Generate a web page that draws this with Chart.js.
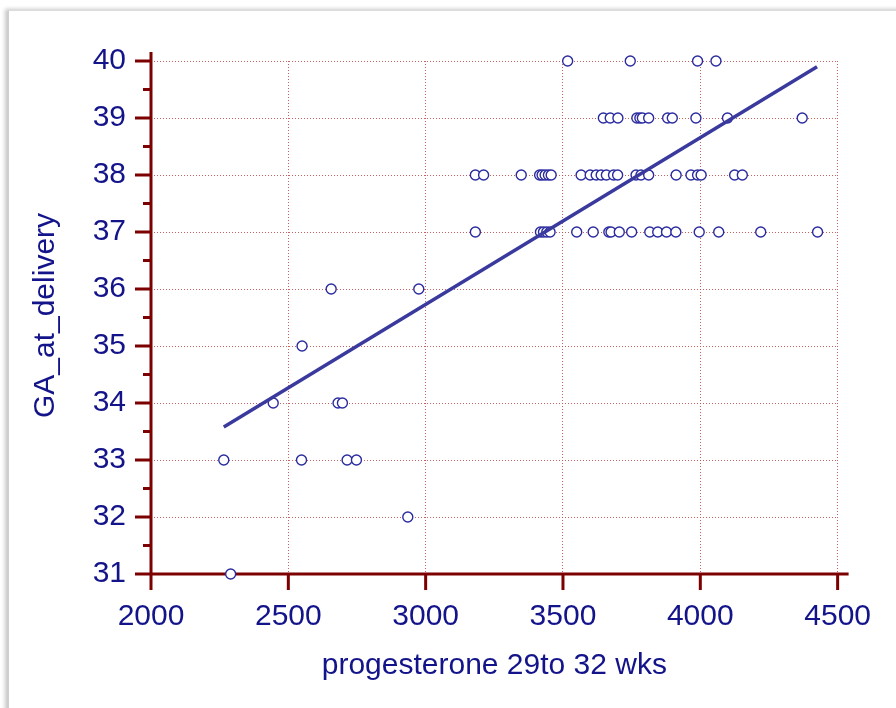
<!DOCTYPE html>
<html>
<head>
<meta charset="utf-8">
<script src="https://cdn.jsdelivr.net/npm/chart.js@4/dist/chart.umd.min.js"></script>
<style>
  html, body { margin: 0; padding: 0; background: #fff; overflow: hidden; }
  #frame {
    position: absolute; left: 8px; top: 10px; width: 900px; height: 710px;
    border-left: 1px solid #cfcfcf; border-top: 1px solid #dcdcdc;
    box-shadow: -3px -1px 4px rgba(0,0,0,0.22);
  }
  #canvas { position: absolute; left: 0; top: 0; }
</style>
</head>
<body>
<div id="frame"></div>
<canvas id="canvas" width="896" height="708"></canvas>
<script>
// gia tri doc tu hinh: progesterone theo tung tuan GA
const wk31 = [2290]
const wk32 = [2935]
const wk33 = [2265, 2548, 2714, 2748]
const wk34 = [2445, 2681, 2697]
const wk35 = [2550]
const wk36 = [2656, 2975]
const wk37 = [3181, 3418, 3429, 3441, 3453, 3550, 3610, 3667, 3675, 3705, 3750,
  3816, 3845, 3877, 3911, 3996, 4067, 4220, 4427]
const wk38 = [3181, 3211, 3348, 3415, 3424, 3435, 3447, 3457, 3566, 3599, 3621,
  3639, 3658, 3684, 3699, 3766, 3784, 3812, 3912, 3966, 3990, 4003, 4125, 4153]
const wk39 = [3647, 3672, 3700, 3769, 3780, 3789, 3812, 3881, 3898, 3984, 4099, 4371]
const wk40 = [3517, 3745, 3990, 4057]

const weeks = [31, 32, 33, 34, 35, 36, 37, 38, 39, 40]
const byWeek = [wk31, wk32, wk33, wk34, wk35, wk36, wk37, wk38, wk39, wk40]

// duong hoi quy (2 dau mut doc tu hinh)
const fitX = [2265, 4425]
const fitY = [33.58, 39.9]

const xTicks = [2000, 2500, 3000, 3500, 4000, 4500]
const xTitle = 'progesterone 29to 32 wks'
const yTitle = 'GA_at_delivery'

const points = []
byWeek.forEach((list, i) => {
  list.forEach(p => points.push({ x: p, y: weeks[i] }))
})
const fitPoints = fitX.map((x, i) => ({ x: x, y: fitY[i] }))

const navy = '#13138a'
const axisRed = '#7d0000'
const font = '"Liberation Sans", Arial, sans-serif'

// ve truc, vach chia va tieu de
const axesPlugin = {
  id: 'axesPlugin',
  beforeDatasetsDraw(chart) {
    const ctx = chart.ctx
    const xs = chart.scales.x, ys = chart.scales.y
    const x0 = xs.getPixelForValue(2000)
    const y0 = ys.getPixelForValue(31)
    ctx.save()
    ctx.strokeStyle = axisRed
    ctx.lineWidth = 3
    ctx.beginPath()
    ctx.moveTo(x0, ys.getPixelForValue(40.16))
    ctx.lineTo(x0, y0 + 16)
    ctx.moveTo(x0 - 14, y0)
    ctx.lineTo(xs.getPixelForValue(4540), y0)
    for (let v = 31; v <= 40; v += 0.5) {
      const py = ys.getPixelForValue(v)
      ctx.moveTo(x0 - (v % 1 === 0 ? 16 : 8), py)
      ctx.lineTo(x0, py)
    }
    xTicks.forEach(v => {
      const px = xs.getPixelForValue(v)
      ctx.moveTo(px, y0)
      ctx.lineTo(px, y0 + 16)
    })
    ctx.stroke()
    ctx.restore()
  },
  afterDraw(chart) {
    const ctx = chart.ctx
    const a = chart.chartArea
    ctx.save()
    ctx.fillStyle = navy
    ctx.font = '30px ' + font
    ctx.textAlign = 'center'
    ctx.textBaseline = 'alphabetic'
    ctx.fillText(xTitle, (a.left + a.right) / 2, 674)
    ctx.translate(46, (a.top + a.bottom) / 2 - 2)
    ctx.rotate(-Math.PI / 2)
    ctx.textBaseline = 'middle'
    ctx.fillText(yTitle, 0, 0)
    ctx.restore()
  }
}

const config = {
  type: 'scatter',
  data: {
    datasets: [
      {
        type: 'line',
        data: fitPoints,
        borderColor: '#3a3a9e',
        borderWidth: 3.5,
        pointRadius: 0,
        fill: false,
        clip: false,
        order: 0,
      },
      {
        data: points,
        borderColor: '#2b2ba0',
        backgroundColor: '#ffffff',
        borderWidth: 1.4,
        pointRadius: 5,
        clip: false,
        order: 1,
      },
    ],
  },
  options: {
    responsive: false,
    animation: false,
    devicePixelRatio: 1,
    layout: { padding: { left: 0, top: 61, right: 57, bottom: 0 } },
    plugins: { legend: { display: false }, tooltip: { enabled: false } },
    scales: {
      x: {
        type: 'linear',
        min: 2000, max: 4500,
        afterFit: s => { s.height = 134 },
        afterBuildTicks: s => { s.ticks = xTicks.map(v => ({ value: v })) },
        ticks: { color: navy, font: { family: font, size: 30 }, padding: 25, callback: v => String(v) },
        grid: { color: 'rgba(190,70,70,0.85)', lineWidth: 1, drawTicks: false },
        border: { display: false, dash: [1, 2] },
      },
      y: {
        type: 'linear',
        min: 31, max: 40,
        afterFit: s => { s.width = 151 },
        ticks: { stepSize: 1, color: navy, font: { family: font, size: 30 }, padding: 25 },
        grid: { color: 'rgba(190,70,70,0.85)', lineWidth: 1, drawTicks: false },
        border: { display: false, dash: [1, 2] },
      },
    },
  },
  plugins: [axesPlugin],
}

const canvas = document.getElementById('canvas')
const chart = new Chart(canvas, config)
</script>
</body>
</html>
